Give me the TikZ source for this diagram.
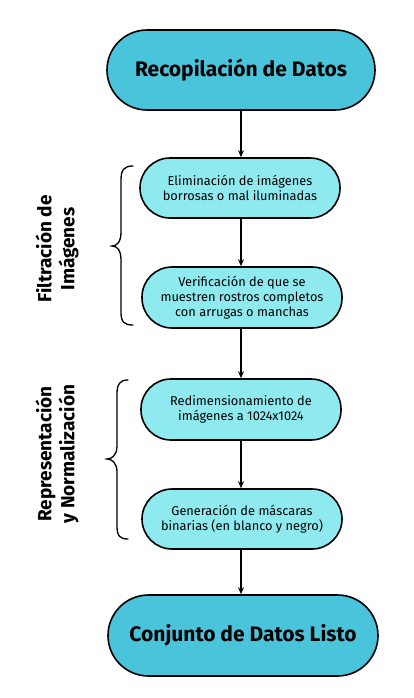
\documentclass[tikz,border=0pt]{standalone}
\usepackage{fontspec}
\setmainfont{Fira Sans}
\usetikzlibrary{arrows.meta}
\definecolor{darkcyan}{RGB}{74,196,219}
\definecolor{lightcyan}{RGB}{142,234,239}
\begin{document}
\begin{tikzpicture}[x=1pt,y=-1pt,
  term/.style={draw=black,line width=1.6pt,fill=darkcyan,minimum width=268pt,minimum height=80pt,rounded corners=40pt,font=\bfseries\fontsize{21}{24}\selectfont,inner sep=0pt},
  stepbox/.style={draw=black,line width=1.6pt,fill=lightcyan,minimum width=200pt,minimum height=60pt,rounded corners=30pt,align=center,font=\fontsize{12.8}{15}\selectfont,inner sep=0pt},
  conn/.style={line width=1.3pt,-{Stealth[length=7pt,width=6pt]}},
  brc/.style={line width=1.3pt,line cap=round},
  lbl/.style={rotate=90,align=center,font=\bfseries\fontsize{19}{23}\selectfont}]
\useasboundingbox (0,0) rectangle (413,698);
\node[term] (start) at (241,70) {Recopilación de Datos};
\node[stepbox] (s1) at (240,188) {Eliminación de imágenes\\borrosas o mal iluminadas};
\node[stepbox,minimum height=61pt] (s2) at (242,297.5) {Verificación de que se\\muestren rostros completos\\con arrugas o manchas};
\node[stepbox,minimum height=61pt] (s3) at (241,409.5) {Redimensionamiento de\\imágenes a 1024x1024};
\node[stepbox] (s4) at (242,519) {Generación de máscaras\\binarias (en blanco y negro)};
\node[term,minimum width=270pt,minimum height=81pt,rounded corners=40.5pt] (end) at (243,635.5) {Conjunto de Datos Listo};
\draw[conn] (start.south) -- (s1.north -| start.south);
\draw[conn] (s1.south -| start.south) -- (s2.north -| start.south);
\draw[conn] (s2.south -| start.south) -- (s3.north -| start.south);
\draw[conn] (s3.south -| start.south) -- (s4.north -| start.south);
\draw[conn] (s4.south -| start.south) -- (end.north -| start.south);
% braces
\draw[brc] (133,166) .. controls (124,166) and (121,170) .. (121,180) -- (121,232)
  .. controls (121,242) and (117,246) .. (112,246)
  .. controls (117,246) and (121,250) .. (121,260) -- (121,312)
  .. controls (121,322) and (124,325) .. (133,325);
\draw[brc] (128,380) .. controls (120,380) and (117,384) .. (117,394) -- (117,446)
  .. controls (117,455) and (112,459) .. (107,459)
  .. controls (112,459) and (117,463) .. (117,472) -- (117,526)
  .. controls (117,536) and (120,539) .. (128,539);
\node[lbl] (l1) at (57,249) {Filtración de\\Imágenes};
\node[lbl] (l2) at (57,454) {Representación\\y Normalización};
\end{tikzpicture}
\end{document}
